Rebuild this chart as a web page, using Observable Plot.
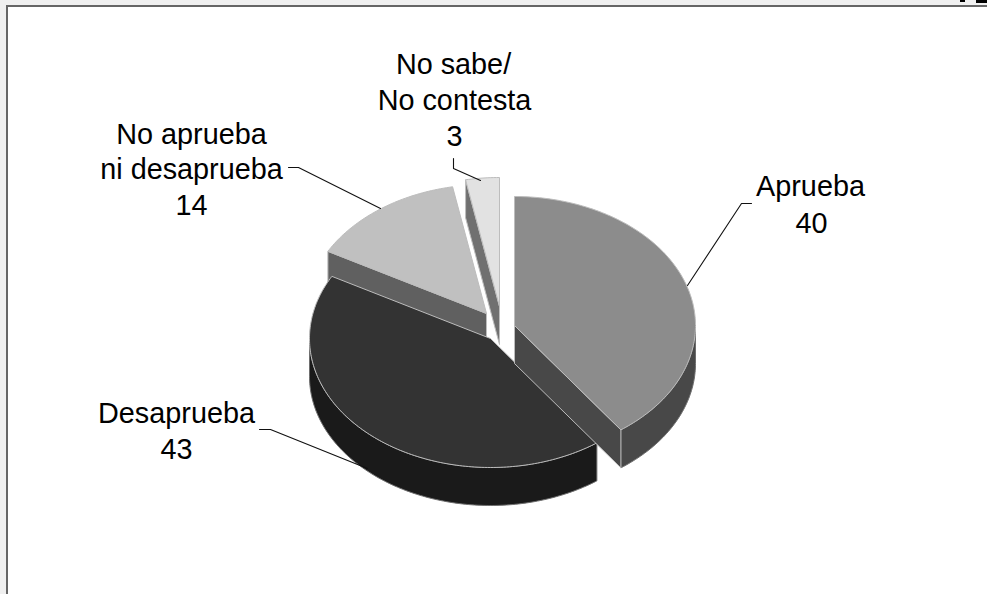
<!DOCTYPE html>
<html>
<head>
<meta charset="utf-8">
<script src="https://cdn.jsdelivr.net/npm/d3@7"></script>
<script src="https://cdn.jsdelivr.net/npm/@observablehq/plot@0.6"></script>
<style>
  html, body { margin: 0; padding: 0; background: #f0f0f0; overflow: hidden; }
  svg { display: block; }
</style>
</head>
<body>
<div id="chart"></div>
<script>
// Data
const categories = ["Aprueba", "Desaprueba", "No aprueba ni desaprueba", "No sabe/No contesta"];
const values = [40, 43, 14, 3];

// Label text, one entry per line
const labelText = ["Aprueba", "40", "Desaprueba", "43", "No aprueba", "ni desaprueba", "14", "No sabe/", "No contesta", "3"];

// Layout
const W = 987, H = 594;
const RX = 181, RY = 129, DEPTH = 38;
const centerX = [514, 490, 486, 499];
const centerY = [325, 338, 313, 306];
const topFill = ["#8c8c8c", "#333333", "#c0c0c0", "#e2e2e2"];
const wallFill = ["#484848", "#1a1a1a", "#606060", "#707070"];
const edge = "#bdbdbd", rimEdge = "#6e6e6e";
const labelX = [810, 811, 176, 176, 191, 191, 191, 453, 454, 454];
const labelY = [195, 232, 422, 458, 143, 178, 214, 73, 109, 145];
const leaderX = [[751, 741, 687], [259, 270, 367], [288, 298, 380], [453, 453, 480]];
const leaderY = [[203, 203, 285], [429, 429, 468], [167, 167, 208], [158, 168, 180]];
// Illegible black specks along the top edge of the picture
const speckX1 = [960, 976], speckX2 = [965, 987], speckY2 = [2, 3];

const arcs = d3.pie().sort(null)(values);
const STEP = Math.PI / 180;
function rimPoints(i, a0, a1) {
  const n = Math.max(1, Math.ceil((a1 - a0) / STEP));
  return d3.range(n + 1).map(k => {
    const a = a0 + (a1 - a0) * k / n;
    return [centerX[i] + RX * Math.sin(a), centerY[i] - RY * Math.cos(a)];
  });
}
const drop = pts => pts.map(([x, y]) => [x, y + DEPTH]).reverse();
const close = pts => [...pts, pts[0]];
const face = (pts, fill, stroke = edge) => Plot.line(close(pts), {
  x: d => d[0], y: d => d[1], fill, stroke, strokeWidth: 1, curve: "linear", strokeLinejoin: "round"
});

const marks = [];
marks.push(Plot.rect([0], {
  x1: 7, x2: W + 5, y1: 6, y2: H + 5, fill: "white", stroke: "#666666", strokeWidth: 2
}));
marks.push(Plot.rect(speckX1, {
  x1: d => d, x2: (_, k) => speckX2[k], y1: 0, y2: (_, k) => speckY2[k], fill: "#000000"
}));

// Draw slices from back to front
[3, 2, 1, 0].forEach(i => {
  const {startAngle: a0, endAngle: a1} = arcs[i];
  const c = [centerX[i], centerY[i]];
  const radialWall = a => {
    const p = rimPoints(i, a, a)[0];
    return [c, p, [p[0], p[1] + DEPTH], [c[0], c[1] + DEPTH]];
  };
  const r0 = Math.max(a0, Math.PI / 2), r1 = Math.min(a1, 3 * Math.PI / 2);
  if (r1 > r0) {
    const rim = rimPoints(i, r0, r1);
    marks.push(face([...rim, ...drop(rim)], wallFill[i], rimEdge));
  }
  if (Math.sin(a0) < -1e-6) marks.push(face(radialWall(a0), wallFill[i]));
  if (Math.sin(a1) > 1e-6) marks.push(face(radialWall(a1), wallFill[i]));
  marks.push(face([c, ...rimPoints(i, a0, a1)], topFill[i]));
});

// Leader lines
categories.forEach((_, i) => {
  marks.push(Plot.line(d3.range(3), {
    x: k => leaderX[i][k], y: k => leaderY[i][k], stroke: "#111111", strokeWidth: 1.1, curve: "linear"
  }));
});

// Labels
marks.push(Plot.text(labelText, {
  x: (_, k) => labelX[k], y: (_, k) => labelY[k], text: d => d,
  textAnchor: "middle", lineAnchor: "bottom", fill: "#000000", fontSize: 28.8,
  fontFamily: "'Liberation Sans', Arial, sans-serif"
}));

const chart = Plot.plot({
  width: W, height: H,
  marginTop: 0, marginRight: 0, marginBottom: 0, marginLeft: 0,
  x: {domain: [0, W], range: [0, W], axis: null},
  y: {domain: [0, H], range: [0, H], axis: null},
  style: {background: "#f0f0f0", overflow: "hidden"},
  marks
});
document.getElementById("chart").appendChild(chart);
</script>
</body>
</html>
